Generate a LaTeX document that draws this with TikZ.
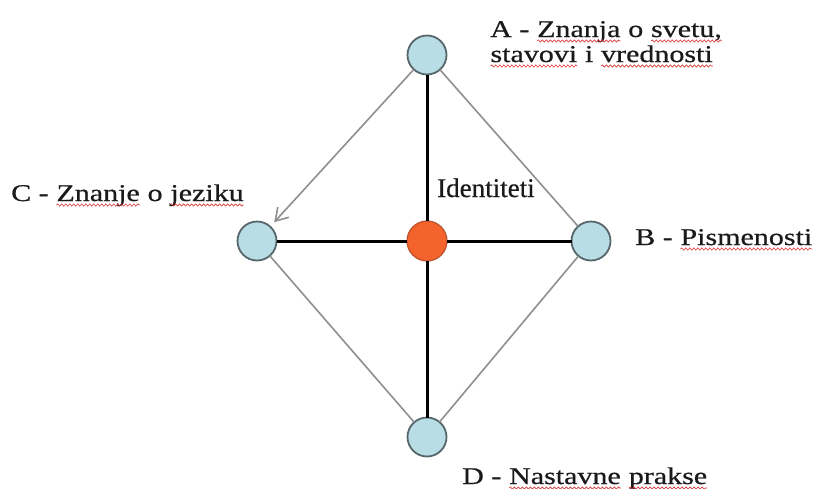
\documentclass[tikz,border=0pt]{standalone}
\usepackage{fontspec}
\usetikzlibrary{arrows.meta,decorations.pathmorphing}
\newfontfamily\lblfont[FakeStretch=1.25,FakeBold=0.6]{Liberation Serif}
\newfontfamily\idfont[FakeBold=0.4]{Liberation Serif}
\definecolor{nodeblue}{HTML}{B8DDE4}
\definecolor{nodeedge}{HTML}{56666B}
\definecolor{coreorange}{HTML}{F4632B}
\definecolor{coreedge}{HTML}{B9532E}
\definecolor{thinline}{HTML}{8F8F8F}
\definecolor{wavered}{HTML}{D83030}
\definecolor{inktext}{HTML}{1A1A1A}
\newsavebox\wavebox
\newcommand\rwave[1]{\sbox\wavebox{#1}\tikz[baseline=0pt,x=1pt,y=1pt]{%
  \node[inner sep=0pt,outer sep=0pt,anchor=base west] (w) at (0,0) {\usebox\wavebox};
  \draw[wavered,line width=0.6pt,decorate,decoration={snake,amplitude=1.1pt,segment length=4pt}] (0,-4) -- (\wd\wavebox,-4);}}
\begin{document}
\begin{tikzpicture}[x=1pt,y=-1pt,
  leaf/.style={circle,draw=nodeedge,line width=1.8pt,fill=nodeblue,minimum size=39pt,inner sep=0pt,outer sep=0pt},
  core/.style={circle,draw=coreedge,line width=1.2pt,fill=coreorange,minimum size=40pt,inner sep=0pt,outer sep=0pt},
  axis/.style={line width=3pt,black},
  rim/.style={line width=1.6pt,thinline},
  lbl/.style={anchor=base west,inner sep=0pt,font=\lblfont\fontsize{24}{25}\selectfont,text=inktext}]
\useasboundingbox (0,0) rectangle (813,488);
\fill[white] (0,0) rectangle (813,488);
\node[leaf] (A) at (427,55) {};
\node[leaf] (C) at (257,241) {};
\node[core] (M) at (427,241) {};
\node[leaf] (B) at (591,241) {};
\node[leaf] (D) at (427,437) {};
\draw[axis] (A) -- (M);
\draw[axis] (M) -- (D);
\draw[axis] (C) -- (M);
\draw[axis] (M) -- (B);
\draw[rim] (A) -- (B);
\draw[rim] (B) -- (D);
\draw[rim] (D) -- (C);
\draw[rim,-{Straight Barb[length=12pt,width=15pt]},shorten >=6pt] (A) -- (C);
\node[lbl] (la1) at (490,37) {A - \rwave{Znanja} o \rwave{svetu,}};
\node[lbl] (la2) at (490,62) {\rwave{stavovi} i \rwave{vrednosti}};
\node[lbl] (lc) at (11,201) {C - \rwave{Znanje} o \rwave{jeziku}};
\node[lbl] (lb) at (635,245) {B - \rwave{Pismenosti}};
\node[lbl] (ld) at (462,484) {D - \rwave{Nastavne} \rwave{prakse}};
\node[anchor=base west,inner sep=0pt,font=\idfont\fontsize{27}{30}\selectfont,text=inktext] (id) at (437,197) {Identiteti};
\end{tikzpicture}
\end{document}
